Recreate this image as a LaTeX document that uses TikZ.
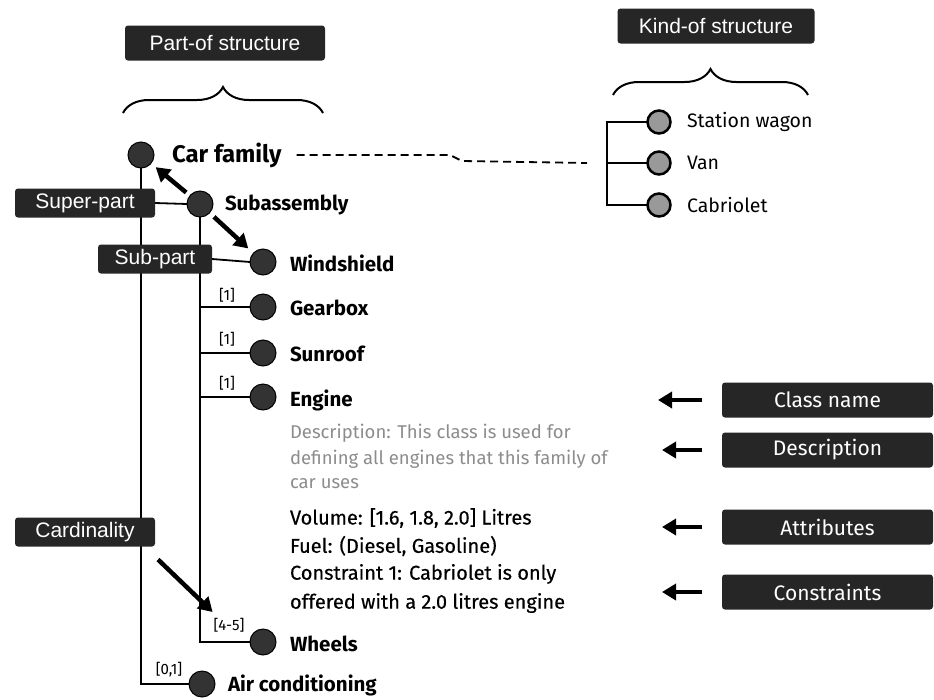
\documentclass[tikz,border=0pt]{standalone}
\usepackage{fontspec}
\setmainfont{Fira Sans}
\newfontfamily\tagfont{Liberation Sans}
\newfontfamily\infofont{Fira Sans}[FakeBold=0.4]
\usetikzlibrary{arrows.meta,decorations.pathreplacing,backgrounds}

\begin{document}
\begin{tikzpicture}[x=1pt,y=-1pt,
  every node/.style={inner sep=0pt, outer sep=0pt},
  tag/.style={fill=black!85, text=white, rounded corners=3pt,
    font=\tagfont\fontsize{21}{21}\selectfont, minimum height=29},
  sidetag/.style={fill=black!85, text=white, rounded corners=3pt,
    font=\fontsize{21}{21}\selectfont, minimum height=35, minimum width=211},
  part/.style={circle, draw=black, line width=1pt, fill=black!80, minimum size=26},
  kind/.style={circle, draw=black, line width=2.5pt, fill=black!40, minimum size=23},
  cname/.style={anchor=west, font=\bfseries\fontsize{20.5}{20.5}\selectfont},
  kname/.style={anchor=west, font=\fontsize{19.5}{19.5}\selectfont},
  info/.style={anchor=west, font=\infofont\fontsize{20}{20}\selectfont},
  descr/.style={anchor=west, text=black!45, font=\fontsize{18.5}{18.5}\selectfont},
  card/.style={font=\fontsize{15}{15}\selectfont},
  tree/.style={line width=1.8pt},
  bigarrow/.style={line width=4.5pt, -{Triangle[length=14pt,width=16pt]}},
  bracestyle/.style={line width=2pt, decorate, decoration={brace, amplitude=26pt}}
]
\useasboundingbox (0,0) rectangle (934,699);

% headings and braces
\node[tag, minimum width=200, minimum height=35] (partof) at (225,43) {Part-of structure};
\node[tag, minimum width=197, minimum height=35] (kindof) at (716,26) {Kind-of structure};
\draw[bracestyle] (123,113) -- (323,113);
\draw[bracestyle] (613,95) -- (808,95);

% part-of tree: classes
\node[part] (car) at (141,155) {};
\node[part] (sub) at (200,204) {};
\node[part] (wind) at (263,262) {};
\node[part] (gear) at (263,307) {};
\node[part] (sun) at (263,353) {};
\node[part] (eng) at (263,397) {};
\node[part] (wheels) at (263,642) {};
\node[part] (ac) at (202,684) {};

\node[cname, font=\bfseries\fontsize{24}{24}\selectfont] (carlbl) at (172,155) {Car family};
\node[cname] (sublbl) at (225,205) {Subassembly};
\node[cname] (windlbl) at (290,263) {Windshield};
\node[cname] (gearlbl) at (290,308) {Gearbox};
\node[cname] (sunlbl) at (290,354) {Sunroof};
\node[cname] (englbl) at (290,400) {Engine};
\node[cname] (wheelslbl) at (290,644) {Wheels};
\node[cname] (aclbl) at (228,685) {Air conditioning};

% engine details
\node[descr] (d1) at (290,433) {Description: This class is used for};
\node[descr] (d2) at (290,459) {defining all engines that this family of};
\node[descr] (d3) at (290,484) {car uses};
\node[info] (vol) at (290,518) {Volume: [1.6, 1.8, 2.0] Litres};
\node[info] (fuel) at (290,546) {Fuel: (Diesel, Gasoline)};
\node[info] (con1) at (290,574) {Constraint 1: Cabriolet is only};
\node[info] (con2) at (290,603) {offered with a 2.0 litres engine};

% cardinalities
\node[card] (c1) at (227,295) {[1]};
\node[card] (c2) at (227,339) {[1]};
\node[card] (c3) at (227,383) {[1]};
\node[card] (c45) at (229,625) {[4-5]};
\node[card] (c01) at (169,670) {[0,1]};

% role tags
\node[tag, minimum width=140] (superpart) at (85,203) {Super-part};
\node[tag, minimum width=114] (subpart) at (155,259) {Sub-part};
\node[tag, minimum width=140] (cardtag) at (85,532) {Cardinality};

% kind-of structure
\node[kind] (sw) at (659,122) {};
\node[kind] (van) at (659,163) {};
\node[kind] (cab) at (659,205) {};
\node[kname] (swlbl) at (687,122) {Station wagon};
\node[kname] (vanlbl) at (687,163) {Van};
\node[kname] (cablbl) at (687,205) {Cabriolet};
\coordinate (ktrunk) at (607,163);

% right-hand legend
\node[sidetag] (clsbox) at (827.5,400) {Class name};
\node[sidetag] (descbox) at (827.5,450) {Description};
\node[sidetag] (attrbox) at (827.5,527) {Attributes};
\node[sidetag] (consbox) at (827.5,592) {Constraints};

\begin{scope}[on background layer]
  \draw[tree] (car.south) |- (ac.west);
  \draw[tree] (superpart.east) -- (sub.west);
  \draw[tree] (sub.south) |- (wheels.west);
  \draw[tree] (subpart.east) -- (wind.west);
  \draw[tree] (sub.south |- gear) -- (gear.west);
  \draw[tree, line width=2.6pt] (sub.south |- sun) -- (sun.west);
  \draw[tree] (sub.south |- eng) -- (eng.west);
  \draw[tree] (sw.west) -| (ktrunk |- cab) -- (cab.west);
  \draw[tree] (ktrunk) -- (van.west);
\end{scope}

% kind-of link
\draw[line width=1.8pt, dash pattern=on 8pt off 5pt]
  ([xshift=15pt]carlbl.east) -- (450,155) -- (462,161) -- ([xshift=-20pt]ktrunk);

% pointer arrows
\draw[bigarrow, shorten <=5pt, shorten >=6pt] (sub) -- (car);
\draw[bigarrow, shorten <=6pt, shorten >=7pt] (sub) -- (wind);
\draw[bigarrow] ([shift={(3,13)}]cardtag.south east) -- ([shift={(-1,-6)}]c45.north west);
\draw[bigarrow] ([xshift=-20pt]clsbox.west) -- ([xshift=-64pt]clsbox.west);
\draw[bigarrow] ([xshift=-20pt]descbox.west) -- ([xshift=-60pt]descbox.west);
\draw[bigarrow] ([xshift=-20pt]attrbox.west) -- ([xshift=-60pt]attrbox.west);
\draw[bigarrow] ([xshift=-20pt]consbox.west) -- ([xshift=-60pt]consbox.west);
\end{tikzpicture}
\end{document}
